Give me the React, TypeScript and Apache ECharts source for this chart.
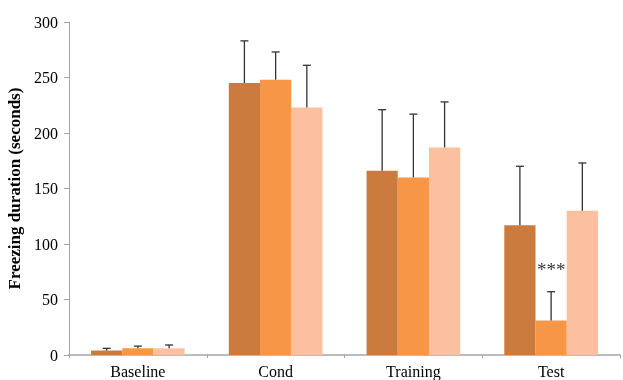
import React, { useEffect, useRef } from "react";
import * as echarts from "echarts";

const categories = ["Baseline", "Cond", "Training", "Test"];
const seriesA = [4, 245, 166, 117];
const seriesB = [6, 248, 160, 31];
const seriesC = [6, 223, 187, 130];
const errA = [2, 38, 55, 53];
const errB = [2, 25, 57, 26];
const errC = [3, 38, 41, 43];
const colors = ["#CB7B3D", "#F79646", "#FAC09F"];
const yTicks = { min: 0, max: 300, interval: 50 };
const annotation = { category: 3, value: 77, text: "***" };

const CAT_GAP = 0.32;

function errorSeries(values: number[], errs: number[], idx: number) {
  const data = values.map((v, i) => [i, v, v + errs[i]]);
  return {
    type: "custom",
    z: 5,
    renderItem: (params: any, api: any) => {
      const ci = api.value(0);
      const top = api.coord([ci, api.value(2)]);
      const base = api.coord([ci, api.value(1)]);
      const band = api.size([1, 0])[0];
      const bw = (band * (1 - CAT_GAP)) / 3;
      const x = base[0] + (idx - 1) * bw;
      return {
        type: "group",
        children: [
          { type: "line", shape: { x1: x, y1: base[1], x2: x, y2: top[1] }, style: { stroke: "#333", lineWidth: 1.3 } },
          { type: "line", shape: { x1: x - 4, y1: top[1], x2: x + 4, y2: top[1] }, style: { stroke: "#333", lineWidth: 1.3 } },
        ],
      };
    },
    encode: { x: 0, y: 2 },
    data,
  };
}

export default function App() {
  const ref = useRef<HTMLDivElement>(null);
  useEffect(() => {
    const chart = echarts.init(ref.current!, null, { renderer: "svg" });
    const font = "'Liberation Serif', 'Times New Roman', serif";
    chart.setOption({
      animation: false,
      textStyle: { fontFamily: font },
      grid: { left: 69, right: 3, top: 22, bottom: 25, containLabel: false, outerBoundsMode: "none" },
      xAxis: {
        type: "category",
        data: categories,
        axisLine: { lineStyle: { color: "#A6A6A6", width: 1.5 } },
        axisTick: { show: true, length: 3, lineStyle: { color: "#A6A6A6" } },
        axisLabel: { color: "#000", fontSize: 16, fontFamily: font, margin: 8, lineHeight: 16 },
      },
      yAxis: {
        type: "value",
        min: yTicks.min,
        max: yTicks.max,
        interval: yTicks.interval,
        name: "Freezing duration (seconds)",
        nameLocation: "middle",
        nameGap: 40,
        nameTextStyle: { color: "#000", fontSize: 17, fontWeight: "bold", fontFamily: font },
        axisLine: { show: true, lineStyle: { color: "#A6A6A6", width: 1 } },
        axisTick: { show: true, length: 5, lineStyle: { color: "#A6A6A6" } },
        axisLabel: { color: "#000", fontSize: 16, fontFamily: font, margin: 11 },
        splitLine: { show: false },
      },
      series: [
        { type: "bar", data: seriesA, itemStyle: { color: colors[0] }, barGap: "0%", barCategoryGap: CAT_GAP * 100 + "%" },
        { type: "bar", data: seriesB, itemStyle: { color: colors[1] }, barGap: "0%", barCategoryGap: CAT_GAP * 100 + "%" },
        { type: "bar", data: seriesC, itemStyle: { color: colors[2] }, barGap: "0%", barCategoryGap: CAT_GAP * 100 + "%" },
        errorSeries(seriesA, errA, 0),
        errorSeries(seriesB, errB, 1),
        errorSeries(seriesC, errC, 2),
        {
          type: "scatter",
          symbolSize: 0,
          z: 6,
          data: [[annotation.category, annotation.value]],
          label: {
            show: true,
            position: "inside",
            formatter: annotation.text,
            color: "#000",
            fontSize: 19,
            fontFamily: font,
          },
        },
      ],
    });
    return () => chart.dispose();
  }, []);
  return (
    <div
      ref={ref}
      style={{ position: "fixed", left: 0, top: 0, width: 623, height: 380 }}
    />
  );
}
